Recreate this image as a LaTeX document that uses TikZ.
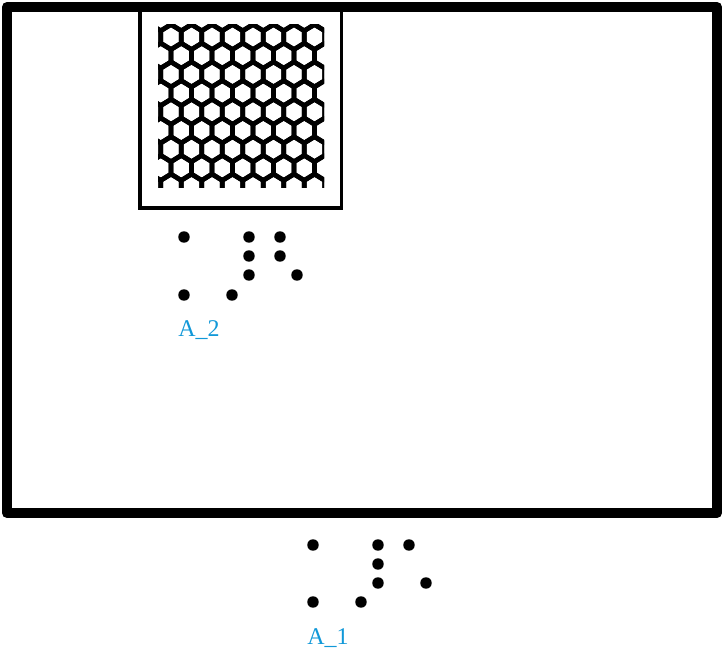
\documentclass[tikz,border=0pt]{standalone}
\usepackage{fontspec}
\setmainfont{Liberation Serif}
\definecolor{labelblue}{HTML}{1198D8}
\tikzset{
  dot/.style={circle, fill=black, inner sep=0pt, minimum size=8.6pt},
  grouplabel/.style={anchor=base west, text=labelblue, inner sep=0pt, font=\fontsize{18}{20}\selectfont},
}
\begin{document}
\begin{tikzpicture}[x=0.75pt, y=-0.75pt]
  \useasboundingbox (0,0) rectangle (722,652);
  % hexagon grid in the inner box
  \begin{scope}
    \clip (158,25) rectangle (324,188);
    \foreach \i in {-1,...,8} {
      \foreach \k in {-1,...,9} {
        \pgfmathsetmacro{\cx}{171+20.5*\k-10.25*mod(abs(\i),2)}
        \pgfmathsetmacro{\cy}{37+18.7*\i}
        \draw[line width=3.5pt, line join=round]
          (\cx,\cy-12.47) -- (\cx+10.25,\cy-6.23) -- (\cx+10.25,\cy+6.23)
          -- (\cx,\cy+12.47) -- (\cx-10.25,\cy+6.23) -- (\cx-10.25,\cy-6.23) -- cycle;
      }
    }
  \end{scope}
  \draw[line width=2.6pt] (140,7) rectangle (341.5,208);
  \draw[line width=7.5pt, line join=round] (7,7) rectangle (717,513);
  % group A_2
  \node[dot] (a2-1) at (184,237) {};
  \node[dot] (a2-2) at (249,237) {};
  \node[dot] (a2-3) at (280,237) {};
  \node[dot] (a2-4) at (249,256) {};
  \node[dot] (a2-5) at (280,256) {};
  \node[dot] (a2-6) at (249,275) {};
  \node[dot] (a2-7) at (297,275) {};
  \node[dot] (a2-8) at (184,295) {};
  \node[dot] (a2-9) at (232,295) {};
  \node[grouplabel] (a2) at (178,337) {A\_2};
  % group A_1
  \node[dot] (a1-1) at (313,545) {};
  \node[dot] (a1-2) at (378,545) {};
  \node[dot] (a1-3) at (409,545) {};
  \node[dot] (a1-4) at (378,564) {};
  \node[dot] (a1-5) at (378,583) {};
  \node[dot] (a1-6) at (426,583) {};
  \node[dot] (a1-7) at (313,602) {};
  \node[dot] (a1-8) at (361,602) {};
  \node[grouplabel] (a1) at (307,644) {A\_1};
\end{tikzpicture}
\end{document}
